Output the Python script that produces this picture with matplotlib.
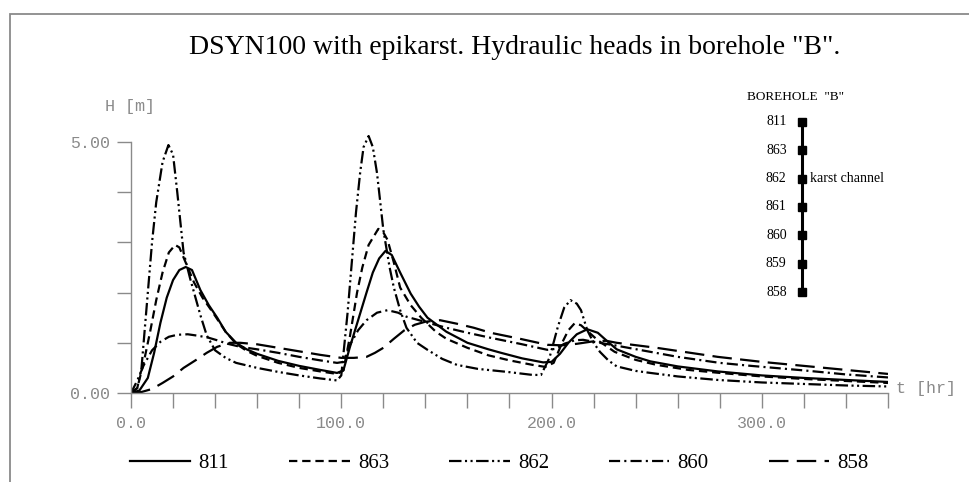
#!/usr/bin/env python3
"""DSYN100 with epikarst - hydraulic heads in borehole B."""
import numpy as np
import matplotlib; matplotlib.use("Agg")
import matplotlib.pyplot as plt
from matplotlib.patches import Rectangle

# ---- data (t in hr, H in m) ----
t_811 = [0, 4, 8, 11, 14, 17, 20, 23, 26, 29, 33, 37, 41, 45, 50, 55, 60, 70, 80, 90, 98,
         101, 104, 108, 112, 115, 118, 121, 124, 128, 133, 137, 141, 150, 160, 170, 176, 186, 196,
         200, 204, 208, 212, 217, 222, 226, 231, 240, 247, 260, 279, 300, 320, 340, 360]
h_811 = [0, 0.05, 0.3, 0.8, 1.4, 1.9, 2.25, 2.45, 2.51, 2.45, 2.05, 1.75, 1.5, 1.22, 1.0, 0.87, 0.78, 0.64, 0.54, 0.46, 0.40,
         0.45, 0.9, 1.45, 2.0, 2.4, 2.68, 2.83, 2.75, 2.4, 1.98, 1.72, 1.5, 1.22, 1.0, 0.87, 0.8, 0.69, 0.61,
         0.62, 0.78, 1.0, 1.17, 1.27, 1.2, 1.05, 0.87, 0.72, 0.63, 0.53, 0.43, 0.35, 0.3, 0.26, 0.22]

t_863 = [0, 3, 6, 9, 12, 15, 18, 21, 23, 26, 30, 34, 39, 45, 50, 55, 60, 70, 80, 90, 98,
         101, 104, 107.5, 110, 113, 117.6, 120, 122, 125, 128, 133, 138, 145, 150, 160, 170, 180, 191, 197,
         201, 205, 208, 211, 214, 218, 222, 230, 240, 250, 265, 280, 300, 320, 340, 360]
h_863 = [0, 0.1, 0.6, 1.2, 1.85, 2.4, 2.8, 2.95, 2.9, 2.6, 2.2, 1.9, 1.6, 1.22, 0.98, 0.84, 0.74, 0.6, 0.5, 0.43, 0.38,
         0.45, 1.1, 2.0, 2.5, 2.95, 3.27, 3.2, 3.05, 2.6, 2.1, 1.75, 1.5, 1.22, 1.08, 0.9, 0.75, 0.65, 0.56, 0.52,
         0.6, 1.0, 1.25, 1.39, 1.35, 1.2, 1.05, 0.82, 0.66, 0.56, 0.46, 0.4, 0.33, 0.28, 0.24, 0.2]

t_862 = [0, 3, 5, 8, 10, 12, 15, 17.8, 20, 22, 25, 28, 30, 33, 36, 40, 45, 50, 60, 70, 80, 90, 98,
         100, 103, 105, 107, 109, 110.6, 113, 115, 117, 120, 123, 125, 128, 131, 136, 141, 148, 155, 165, 179, 191, 195,
         199, 203, 206, 209, 212, 214, 217, 220, 223, 227, 231, 240, 247, 260, 279, 300, 320, 340, 360]
h_862 = [0, 0.1, 0.5, 2.0, 3.0, 3.8, 4.6, 4.94, 4.75, 4.0, 2.8, 2.3, 2.0, 1.55, 1.15, 0.85, 0.7, 0.6, 0.5, 0.42, 0.35, 0.29, 0.25,
         0.35, 1.6, 2.6, 3.6, 4.4, 4.9, 5.12, 4.9, 4.38, 3.25, 2.5, 2.1, 1.65, 1.3, 1.0, 0.86, 0.68, 0.56, 0.48, 0.42, 0.36, 0.36,
         0.7, 1.32, 1.7, 1.85, 1.78, 1.65, 1.25, 1.0, 0.82, 0.65, 0.53, 0.44, 0.4, 0.33, 0.26, 0.21, 0.18, 0.15, 0.13]

t_860 = [0, 3, 6, 10, 14, 18, 22, 27, 32, 37, 41, 46, 52, 60, 70, 80, 90, 98,
         101, 104, 108, 112, 117, 122, 127, 131, 137, 142, 150, 160, 171, 185, 198,
         202, 206, 211, 215, 220, 230, 247, 260, 280, 295, 320, 340, 360]
h_860 = [0, 0.25, 0.55, 0.85, 1.02, 1.12, 1.16, 1.17, 1.14, 1.1, 1.05, 0.98, 0.92, 0.87, 0.8, 0.72, 0.65, 0.6,
         0.62, 0.95, 1.25, 1.45, 1.6, 1.65, 1.6, 1.52, 1.45, 1.39, 1.3, 1.2, 1.1, 0.98, 0.86,
         0.88, 0.98, 1.05, 1.06, 1.02, 0.95, 0.82, 0.72, 0.6, 0.54, 0.45, 0.37, 0.31]

t_858 = [0, 5, 10, 15, 20, 25, 31, 36, 41, 47, 52, 60, 70, 80, 90, 100,
         106, 112, 116, 120, 125, 130, 135, 140, 147, 155, 163, 171, 185, 198,
         205, 212, 220, 226, 231, 250, 279, 300, 320, 340, 360]
h_858 = [0, 0.02, 0.08, 0.2, 0.33, 0.5, 0.66, 0.8, 0.92, 1.0, 1.0, 0.97, 0.9, 0.83, 0.76, 0.7,
         0.7, 0.72, 0.8, 0.9, 1.08, 1.25, 1.36, 1.42, 1.45, 1.38, 1.3, 1.2, 1.08, 0.96,
         0.95, 0.98, 1.03, 1.04, 1.0, 0.9, 0.72, 0.62, 0.54, 0.46, 0.38]

nodes = ["811", "863", "862", "861", "860", "859", "858"]
x_ticks = [0, 100, 200, 300]
x_ticklabels = ["0.0", "100.0", "200.0", "300.0"]

GRAY = "#8a8a8a"
plt.rcParams.update({"lines.scale_dashes": False, "font.family": "Liberation Mono"})
series = [("811", t_811, h_811, "-"),
          ("863", t_863, h_863, (0, (6, 3.5))),
          ("862", t_862, h_862, (0, (9, 2.5, 1.5, 2.5, 1.5, 2.5))),
          ("860", t_860, h_860, (0, (8, 3, 1.5, 3))),
          ("858", t_858, h_858, (0, (14, 6)))]

fig = plt.figure(figsize=(9.70, 4.82), dpi=100)
fig.patches.append(Rectangle((10/970, -0.1), 1.2, 1.1 - 14/482, transform=fig.transFigure,
                             fill=False, edgecolor=GRAY, lw=1.3))

ax = fig.add_axes([131/970, 1-393/482, 757/970, 261/482])
for name, t, h, ls in series:
    ax.plot(t, h, color="black", lw=1.6, linestyle=ls, label=name)

ax.set_xlim(0, 360); ax.set_ylim(0, 5.2)
for s in ("top", "right"): ax.spines[s].set_visible(False)
ax.spines["left"].set_bounds(0, 5); ax.spines["bottom"].set_bounds(0, 360)
for s in ("left", "bottom"):
    ax.spines[s].set_color(GRAY); ax.spines[s].set_linewidth(1.0)
ax.set_xticks(np.arange(0, 361, 20))
ax.set_xticklabels([x_ticklabels[x_ticks.index(v)] if v in x_ticks else "" for v in range(0, 361, 20)])
ax.set_yticks(range(6))
ax.set_yticklabels(["0.00", "", "", "", "", "5.00"])
ax.tick_params(axis="x", length=10.8, width=1, color=GRAY, labelcolor=GRAY, labelsize=12, pad=6)
ax.tick_params(axis="y", length=10, width=1, color=GRAY, labelcolor=GRAY, labelsize=12, pad=5)
ax.patch.set_alpha(0)

fig.text(130/970, 1-107/482, "H [m]", ha="center", va="center", color=GRAY, fontsize=12)
fig.text(896/970, 1-388/482, "t [hr]", ha="left", va="center", color=GRAY, fontsize=12)
fig.text(515/970, 1-48/482, 'DSYN100 with epikarst. Hydraulic heads in borehole "B".',
         ha="center", va="center", family="Liberation Serif", fontsize=20)

# borehole sketch
axb = fig.add_axes([722/970, 1-306.2/482, 160/970, 198.4/482])
axb.plot([0]*len(nodes), range(len(nodes)), color="black", lw=2.2, marker="s", ms=6)
axb.set_xlim(-1, 1); axb.set_ylim(len(nodes)-0.5, -0.5); axb.axis("off")
for i, n in enumerate(nodes):
    axb.annotate(n, (0, i), xytext=(-11, 0), textcoords="offset points", ha="right", va="center",
                 family="Liberation Serif", fontsize=10)
axb.annotate("karst channel", (0, nodes.index("862")), xytext=(5.5, 0), textcoords="offset points",
             ha="left", va="center", family="Liberation Serif", fontsize=10)
axb.annotate('BOREHOLE  "B"', (0, 0), xytext=(-5, 18), textcoords="offset points", ha="center",
             va="center", family="Liberation Serif", fontsize=9.5)

fig.legend(loc="center left", bbox_to_anchor=(130/970, 1-463/482), ncol=5, frameon=False,
           prop={"family": "Liberation Serif", "size": 15}, handlelength=2.9, handletextpad=0.4,
           columnspacing=2.88, borderpad=0, borderaxespad=0)

fig.savefig("out.png", dpi=100)
